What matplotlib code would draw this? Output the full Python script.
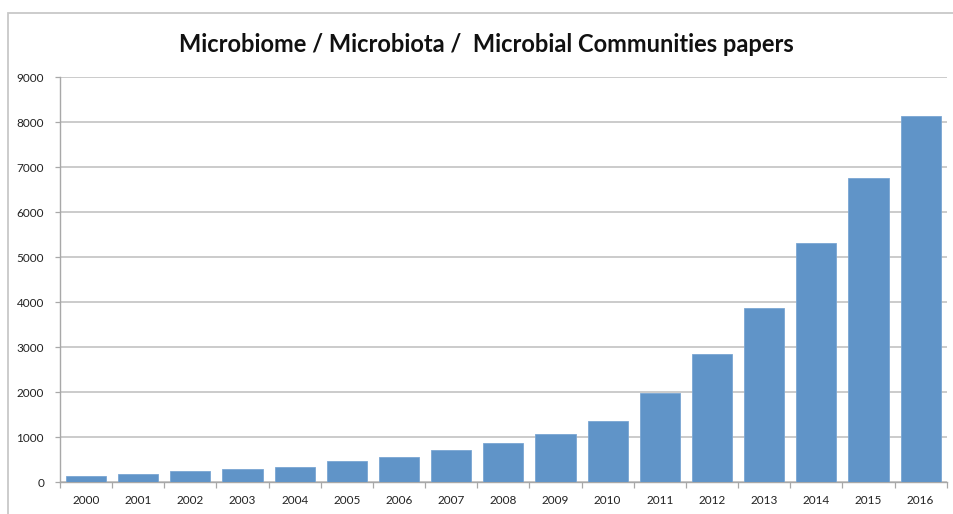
import matplotlib
matplotlib.use("Agg")
import matplotlib.pyplot as plt
from matplotlib.patches import Rectangle
from matplotlib.ticker import FixedLocator, NullFormatter

years = ["2000", "2001", "2002", "2003", "2004", "2005", "2006", "2007", "2008",
         "2009", "2010", "2011", "2012", "2013", "2014", "2015", "2016"]
papers = [150, 180, 260, 290, 335, 475, 573, 707, 875,
          1078, 1362, 1978, 2850, 3870, 5310, 6760, 8130]
y_ticks = [0, 1000, 2000, 3000, 4000, 5000, 6000, 7000, 8000, 9000]
title = "Microbiome / Microbiota /  Microbial Communities papers"

W, H = 954, 514
fig = plt.figure(figsize=(W / 100, H / 100), dpi=100)
fig.patch.set_facecolor("white")

# light outer frame of the chart area
fig.patches.append(Rectangle((8.3 / W, -0.1), 1.2, 1 - 13.3 / H + 0.1,
                             transform=fig.transFigure, fill=False,
                             edgecolor="#c8c8c8", linewidth=1.3, zorder=0))

left, right = 60 / W, 946.7 / W
bottom, top = 1 - 482.3 / H, 1 - 77.3 / H
ax = fig.add_axes([left, bottom, right - left, top - bottom])

x = list(range(len(years)))
ax.bar(x, papers, width=0.77, color="#6094c8", edgecolor="#7aa6d3",
       linewidth=0.6, zorder=3)

ax.set_xlim(-0.5, len(years) - 0.5)
ax.set_ylim(0, 9000)
ax.set_yticks(y_ticks)
ax.set_yticklabels([str(v) for v in y_ticks])
ax.yaxis.grid(True, color="#bdbdbd", linewidth=1.1, zorder=0)

ax.set_xticks(x)
ax.set_xticklabels(years)
ax.xaxis.set_minor_locator(FixedLocator([i - 0.5 for i in range(len(years) + 1)]))
ax.xaxis.set_minor_formatter(NullFormatter())
ax.tick_params(axis="x", which="major", length=0, pad=9, labelsize=8.5,
               labelcolor="#222222")
ax.tick_params(axis="x", which="minor", length=4, width=0.9, color="#a8a8a8",
               direction="out")
ax.tick_params(axis="y", length=3.5, width=0.9, color="#a8a8a8", pad=8,
               labelsize=8.5, labelcolor="#222222")

for side in ("top", "right"):
    ax.spines[side].set_visible(False)
for side in ("left", "bottom"):
    ax.spines[side].set_color("#a8a8a8")
    ax.spines[side].set_linewidth(1.0)

for lab in ax.get_xticklabels() + ax.get_yticklabels():
    lab.set_family(["Lato", "DejaVu Sans"])

fig.text(486 / W, 1 - 45 / H, title, ha="center", va="center",
         fontsize=17, fontweight="bold", family=["Lato", "DejaVu Sans"],
         color="#111111")

fig.savefig("out.png", dpi=100)
